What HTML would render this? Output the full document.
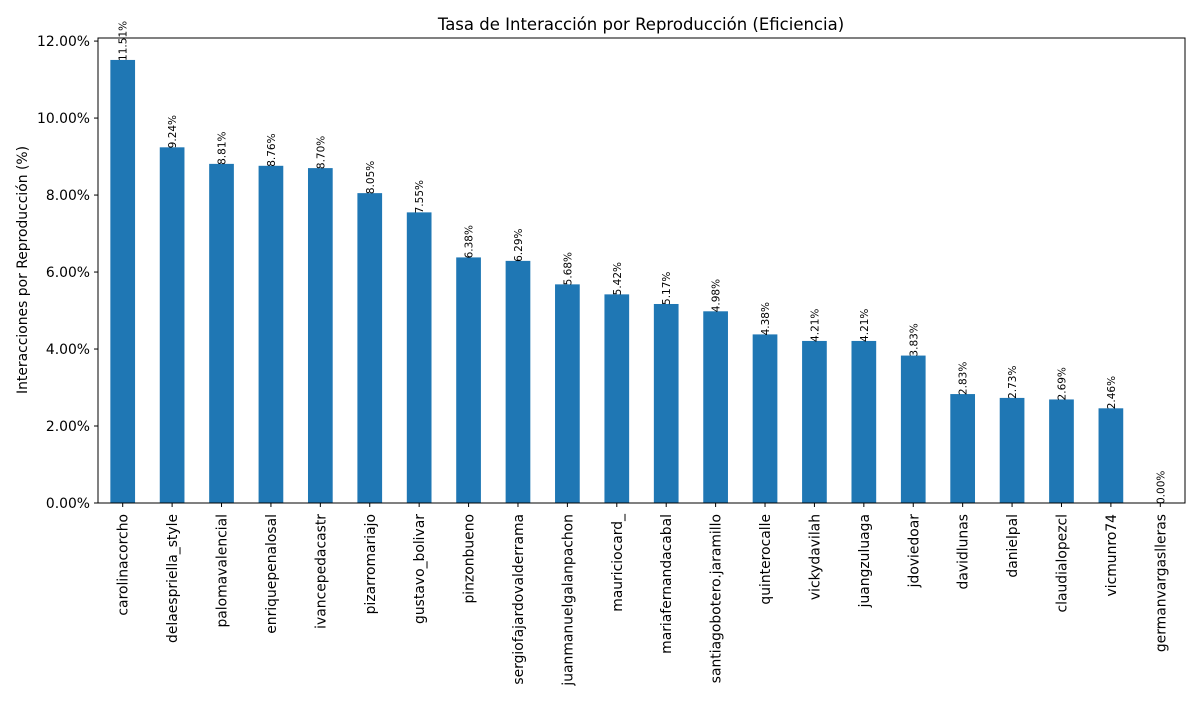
<!DOCTYPE html>
<html><head><meta charset="utf-8"><style>
body{margin:0;background:#fff;}
svg text{font-family:"DejaVu Sans","Liberation Sans",sans-serif;fill:#000;}
</style></head><body>
<svg id="chart" width="1200" height="700">
<text x="641" y="30" font-size="16.5" text-anchor="middle">Tasa de Interacción por Reproducción (Eficiencia)</text>
<text transform="translate(27,270) rotate(-90)" font-size="13.9" text-anchor="middle">Interacciones por Reproducción (%)</text>
<g id="plot"></g>
</svg>
<script>
const categories=["carolinacorcho","delaespriella_style","palomavalencial","enriquepenalosal","ivancepedacastr","pizarromariajo","gustavo_bolivar","pinzonbueno","sergiofajardovalderrama","juanmanuelgalanpachon","mauriciocard_","mariafernandacabal","santiagobotero.jaramillo","quinterocalle","vickydavilah","juangzuluaga","jdoviedoar","davidlunas","danielpal","claudialopezcl","vicmunro74","germanvargaslleras"];
const values=[11.51,9.24,8.81,8.76,8.70,8.05,7.55,6.38,6.29,5.68,5.42,5.17,4.98,4.38,4.21,4.21,3.83,2.83,2.73,2.69,2.46,0.00];
const yTicks=[0,2,4,6,8,10,12];
const L=98,R=1185,T=38,B=503,yMax=12.08;
const NS="http://www.w3.org/2000/svg";
const g=document.getElementById('plot');
const x=i=>L+(i+0.5)*(R-L)/categories.length;
const y=v=>B-v/yMax*(B-T);
const bw=0.5*(R-L)/categories.length;
function mk(t,a){const e=document.createElementNS(NS,t);for(const k in a)e.setAttribute(k,a[k]);g.appendChild(e);return e;}
values.forEach((v,i)=>{
 const r=mk('rect',{x:x(i)-bw/2,y:y(v),width:bw,height:B-y(v),fill:'#1f77b4'});
 
 
 const t=mk('text',{transform:`translate(${x(i)+4},${y(v)+1}) rotate(-90)`,'font-size':10.5});
 t.textContent=v.toFixed(2)+'%';
 
 
 mk('line',{x1:x(i),x2:x(i),y1:B,y2:B+4,stroke:'#000'});
 const c=mk('text',{transform:`translate(${x(i)+5},${B+11}) rotate(-90)`,'font-size':13.9,'text-anchor':'end'});
 c.textContent=categories[i];
 
 
});
yTicks.forEach(v=>{
 mk('line',{x1:L-4,x2:L,y1:y(v),y2:y(v),stroke:'#000'});
 const t=mk('text',{x:L-8,y:y(v)+5,'font-size':13.9,'text-anchor':'end'});
 t.textContent=v.toFixed(2)+'%';
 
 
});
const f=mk('rect',{x:L,y:T,width:R-L,height:B-T,fill:'none',stroke:'#000'});


</script>
</body></html>
